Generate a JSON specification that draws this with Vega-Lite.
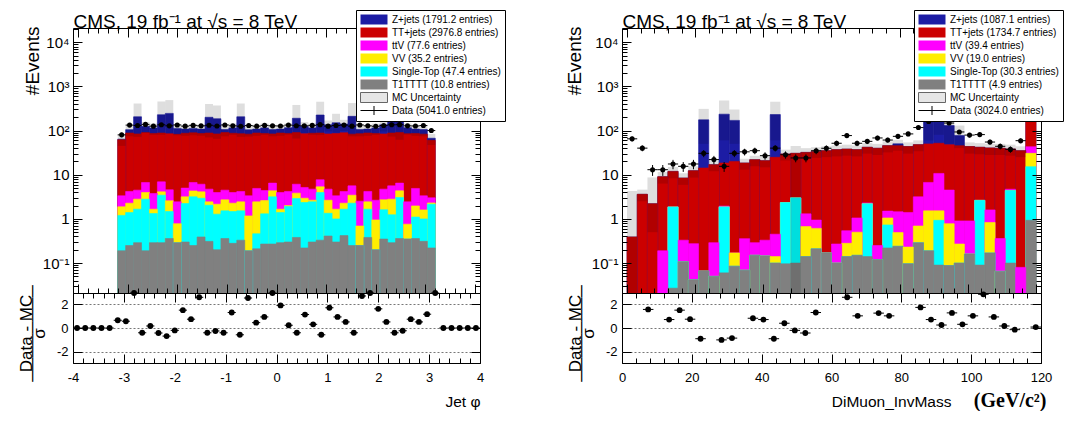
{
"$schema": "https://vega.github.io/schema/vega-lite/v6.json",
"background": "white",
"padding": {"left": 16, "top": 9, "right": 0, "bottom": 0},
"config": {
 "font": "Liberation Sans",
 "view": {"stroke": "#000", "strokeWidth": 1},
 "axis": {"domain": false, "grid": false, "labelFont": "Liberation Sans", "titleFont": "Liberation Sans", "labelColor": "#000", "titleColor": "#000", "tickColor": "#000", "tickWidth": 1, "titleFontWeight": "normal", "labelFlush": false, "labelOverlap": false, "labelBound": false, "titlePadding": 0},
 "legend": {"orient": "none", "title": null, "symbolType": "M-2.7,-1H2.7V1H-2.7Z", "symbolSize": 100, "symbolOffset": 8.5, "labelOffset": 12.5, "labelFontSize": 10, "labelFont": "Liberation Sans", "labelColor": "#000", "rowPadding": -2, "padding": 4, "strokeColor": "#000", "fillColor": "#fff", "symbolStrokeWidth": 1, "labelLimit": 300, "zindex": 2}
},
"datasets": {
"L": [
{"lo":-4,"hi":-3.84,"xc":-3.92,"rt":0},
{"lo":-3.84,"hi":-3.68,"xc":-3.76,"rt":0},
{"lo":-3.68,"hi":-3.52,"xc":-3.6,"rt":0},
{"lo":-3.52,"hi":-3.36,"xc":-3.44,"rt":0},
{"lo":-3.36,"hi":-3.2,"xc":-3.28,"rt":0},
{"lo":-3.2,"hi":-3.04,"xc":-3.12,"g":0.19,"c":1.2,"y":1.88,"m":3.33,"r":62,"b":64,"ul":45,"uh":80,"d":80,"dl":71,"dh":89,"rt":0.65},
{"lo":-3.04,"hi":-2.88,"xc":-2.96,"g":0.25,"c":1.39,"y":2.27,"m":4.18,"r":88,"b":105,"ul":74,"uh":131,"d":133,"dl":122,"dh":145,"rt":0.57},
{"lo":-2.88,"hi":-2.72,"xc":-2.8,"g":0.29,"c":1.66,"y":2.8,"m":4.48,"r":84,"b":205,"ul":72,"uh":410,"d":130,"dl":119,"dh":141,"rt":2.94},
{"lo":-2.72,"hi":-2.56,"xc":-2.64,"g":0.19,"c":2.8,"y":3.96,"m":6.68,"r":90,"b":125,"ul":88,"uh":156,"d":138,"dl":126,"dh":150,"rt":-0.4},
{"lo":-2.56,"hi":-2.4,"xc":-2.48,"g":0.29,"c":1.32,"y":1.66,"m":3.76,"r":86,"b":115,"ul":80,"uh":144,"d":126,"dl":115,"dh":137,"rt":0.17},
{"lo":-2.4,"hi":-2.24,"xc":-2.32,"g":0.29,"c":3.44,"y":4.1,"m":6.9,"r":88,"b":228,"ul":80,"uh":456,"d":135,"dl":123,"dh":147,"rt":-0.42},
{"lo":-2.24,"hi":-2.08,"xc":-2.16,"g":0.36,"c":1.47,"y":2.57,"m":4.56,"r":85,"b":245,"ul":86,"uh":490,"d":128,"dl":117,"dh":139,"rt":-0.68},
{"lo":-2.08,"hi":-1.92,"xc":-2.0,"g":0.29,"c":0.29,"y":0.78,"m":2.43,"r":82,"b":112,"ul":78,"uh":140,"d":134,"dl":122,"dh":146,"rt":-0.2},
{"lo":-1.92,"hi":-1.76,"xc":-1.84,"g":0.3,"c":2.23,"y":3.16,"m":4.98,"r":87,"b":108,"ul":76,"uh":135,"d":126,"dl":115,"dh":137,"rt":1.5},
{"lo":-1.76,"hi":-1.6,"xc":-1.68,"g":0.25,"c":3.16,"y":4.3,"m":6.68,"r":89,"b":112,"ul":78,"uh":140,"d":131,"dl":120,"dh":142,"rt":0.74},
{"lo":-1.6,"hi":-1.44,"xc":-1.52,"g":0.39,"c":2.94,"y":4.1,"m":6.1,"r":86,"b":108,"ul":76,"uh":135,"d":128,"dl":117,"dh":139,"rt":2.58},
{"lo":-1.44,"hi":-1.28,"xc":-1.36,"g":0.31,"c":2.04,"y":2.43,"m":4.72,"r":88,"b":200,"ul":70,"uh":400,"d":132,"dl":121,"dh":143,"rt":-0.4},
{"lo":-1.28,"hi":-1.12,"xc":-1.2,"g":0.2,"c":1.28,"y":2.15,"m":3.96,"r":84,"b":185,"ul":65,"uh":370,"d":127,"dl":116,"dh":138,"rt":-0.25},
{"lo":-1.12,"hi":-0.96,"xc":-1.04,"g":0.36,"c":1.52,"y":2.7,"m":4.48,"r":90,"b":106,"ul":74,"uh":132,"d":134,"dl":122,"dh":146,"rt":-0.4},
{"lo":-0.96,"hi":-0.8,"xc":-0.88,"g":0.28,"c":1.47,"y":2.27,"m":3.96,"r":87,"b":115,"ul":80,"uh":144,"d":128,"dl":117,"dh":139,"rt":1.3},
{"lo":-0.8,"hi":-0.64,"xc":-0.72,"g":0.33,"c":1.52,"y":2.43,"m":4.18,"r":85,"b":205,"ul":72,"uh":410,"d":125,"dl":114,"dh":136,"rt":-0.57},
{"lo":-0.64,"hi":-0.48,"xc":-0.56,"g":0.19,"c":0.19,"y":1.17,"m":3.33,"r":83,"b":104,"ul":73,"uh":130,"d":130,"dl":119,"dh":141,"rt":2.52},
{"lo":-0.48,"hi":-0.32,"xc":-0.4,"g":0.21,"c":0.46,"y":2.43,"m":4.9,"r":88,"b":108,"ul":76,"uh":135,"d":126,"dl":115,"dh":137,"rt":0.45},
{"lo":-0.32,"hi":-0.16,"xc":-0.24,"g":0.27,"c":1.3,"y":2.6,"m":4.4,"r":86,"b":115,"ul":80,"uh":144,"d":131,"dl":120,"dh":142,"rt":0.93},
{"lo":-0.16,"hi":0,"xc":-0.08,"g":0.27,"c":3.16,"y":4.33,"m":6.46,"r":84,"b":106,"ul":74,"uh":132,"d":128,"dl":117,"dh":139,"rt":2.94},
{"lo":0,"hi":0.16,"xc":0.08,"g":0.29,"c":1.39,"y":1.66,"m":3.96,"r":88,"b":108,"ul":76,"uh":135,"d":127,"dl":116,"dh":138,"rt":1.9},
{"lo":0.16,"hi":0.32,"xc":0.24,"g":0.3,"c":1.9,"y":2.0,"m":4.18,"r":86,"b":116,"ul":81,"uh":145,"d":133,"dl":122,"dh":145,"rt":0.23},
{"lo":0.32,"hi":0.48,"xc":0.4,"g":0.38,"c":2.9,"y":3.83,"m":6.1,"r":90,"b":190,"ul":66,"uh":380,"d":129,"dl":118,"dh":140,"rt":-0.4},
{"lo":0.48,"hi":0.64,"xc":0.56,"g":0.22,"c":2.35,"y":2.94,"m":5.15,"r":85,"b":125,"ul":88,"uh":156,"d":128,"dl":117,"dh":139,"rt":1.13},
{"lo":0.64,"hi":0.8,"xc":0.72,"g":0.3,"c":2.43,"y":2.65,"m":4.72,"r":87,"b":115,"ul":80,"uh":144,"d":131,"dl":120,"dh":142,"rt":0.31},
{"lo":0.8,"hi":0.96,"xc":0.88,"g":0.33,"c":3.96,"y":5.33,"m":7.7,"r":88,"b":225,"ul":79,"uh":450,"d":136,"dl":124,"dh":148,"rt":-0.57},
{"lo":0.96,"hi":1.12,"xc":1.04,"g":0.41,"c":1.34,"y":2.65,"m":4.72,"r":84,"b":135,"ul":95,"uh":169,"d":126,"dl":115,"dh":137,"rt":1.7},
{"lo":1.12,"hi":1.28,"xc":1.2,"g":0.3,"c":1.0,"y":1.66,"m":3.33,"r":86,"b":150,"ul":90,"uh":240,"d":130,"dl":119,"dh":141,"rt":0.93},
{"lo":1.28,"hi":1.44,"xc":1.36,"g":0.42,"c":1.66,"y":2.27,"m":4.18,"r":89,"b":140,"ul":98,"uh":175,"d":133,"dl":122,"dh":145,"rt":0.51},
{"lo":1.44,"hi":1.6,"xc":1.52,"g":0.25,"c":2.27,"y":3.44,"m":5.6,"r":83,"b":210,"ul":74,"uh":420,"d":126,"dl":115,"dh":137,"rt":-0.4},
{"lo":1.6,"hi":1.76,"xc":1.68,"g":0.25,"c":0.25,"y":0.69,"m":2.52,"r":85,"b":106,"ul":74,"uh":132,"d":134,"dl":122,"dh":146,"rt":2.69},
{"lo":1.76,"hi":1.92,"xc":1.84,"g":0.38,"c":1.66,"y":2.43,"m":4.18,"r":88,"b":108,"ul":76,"uh":135,"d":128,"dl":117,"dh":139,"rt":2.94},
{"lo":1.92,"hi":2.08,"xc":2.0,"g":0.2,"c":0.2,"y":0.95,"m":2.65,"r":86,"b":115,"ul":80,"uh":144,"d":125,"dl":114,"dh":136,"rt":1.61},
{"lo":2.08,"hi":2.24,"xc":2.16,"g":0.35,"c":1.61,"y":2.7,"m":4.72,"r":84,"b":135,"ul":95,"uh":169,"d":130,"dl":119,"dh":141,"rt":0.51},
{"lo":2.24,"hi":2.4,"xc":2.32,"g":0.29,"c":1.24,"y":2.8,"m":5.6,"r":88,"b":208,"ul":73,"uh":416,"d":135,"dl":123,"dh":147,"rt":-0.4},
{"lo":2.4,"hi":2.56,"xc":2.48,"g":0.36,"c":3.05,"y":4.33,"m":6.46,"r":90,"b":178,"ul":62,"uh":356,"d":136,"dl":124,"dh":148,"rt":-0.23},
{"lo":2.56,"hi":2.72,"xc":2.64,"g":0.35,"c":0.35,"y":0.76,"m":2.43,"r":85,"b":116,"ul":81,"uh":145,"d":128,"dl":117,"dh":139,"rt":0.74},
{"lo":2.72,"hi":2.88,"xc":2.8,"g":0.36,"c":1.1,"y":1.97,"m":4.9,"r":86,"b":108,"ul":76,"uh":135,"d":127,"dl":116,"dh":138,"rt":0.51},
{"lo":2.88,"hi":3.04,"xc":2.96,"g":0.31,"c":1.0,"y":1.6,"m":3.33,"r":83,"b":106,"ul":74,"uh":132,"d":130,"dl":119,"dh":141,"rt":1.16},
{"lo":3.04,"hi":3.2,"xc":3.12,"g":0.22,"c":2.15,"y":2.3,"m":3.0,"r":60,"b":67,"ul":47,"uh":84,"d":100,"dl":90,"dh":110,"rt":2.94},
{"lo":3.2,"hi":3.36,"xc":3.28,"rt":0},
{"lo":3.36,"hi":3.52,"xc":3.44,"rt":0},
{"lo":3.52,"hi":3.68,"xc":3.6,"rt":0},
{"lo":3.68,"hi":3.84,"xc":3.76,"rt":0},
{"lo":3.84,"hi":4,"xc":3.92,"rt":0}
],
"R": [
{"lo":0,"hi":3,"xc":1.5,"r":0.39,"b":0.39,"ul":0.015,"uh":4.3,"d":65,"dl":57,"dh":73},
{"lo":3,"hi":6,"xc":4.5,"r":3.6,"b":3.6,"ul":2.5,"uh":4.6,"d":40,"dl":34,"dh":46},
{"lo":6,"hi":9,"xc":7.5,"r":2.2,"b":2.2,"ul":0.5,"uh":8.7,"d":13,"dl":9.4,"dh":16.6,"rt":1.56},
{"lo":9,"hi":12,"xc":10.5,"m":0.19,"r":9.0,"b":9.0,"ul":6.3,"uh":11.5,"d":13,"dl":9.4,"dh":16.6},
{"lo":12,"hi":15,"xc":13.5,"g":0.027,"c":1.87,"y":1.87,"m":1.87,"r":11.9,"b":11.9,"ul":8.3,"uh":15,"d":17.5,"dl":13.3,"dh":21.7,"rt":0.71},
{"lo":15,"hi":18,"xc":16.5,"g":0.107,"c":0.107,"y":0.107,"m":0.33,"r":8.4,"b":8.4,"ul":5.9,"uh":10.8,"d":15.5,"dl":11.6,"dh":19.4,"rt":1.5},
{"lo":18,"hi":21,"xc":19.5,"g":0.042,"c":0.042,"y":0.042,"m":0.275,"r":12.3,"b":12.3,"ul":8.6,"uh":15.5,"d":17.5,"dl":13.3,"dh":21.7,"rt":0.74},
{"lo":21,"hi":24,"xc":22.5,"g":0.066,"c":0.066,"y":0.066,"m":0.066,"r":14.2,"b":175,"ul":50,"uh":310,"d":30.5,"dl":25,"dh":36,"rt":-0.9},
{"lo":24,"hi":27,"xc":25.5,"g":0.05,"c":0.05,"y":0.05,"m":0.29,"r":16.9,"b":16.9,"ul":12,"uh":21,"d":22,"dl":17.3,"dh":26.7},
{"lo":27,"hi":30,"xc":28.5,"g":0.06,"c":1.87,"y":1.87,"m":1.95,"r":18.4,"b":235,"ul":60,"uh":480,"d":15.5,"dl":11.6,"dh":19.4,"rt":-1.0},
{"lo":30,"hi":33,"xc":31.5,"g":0.085,"c":0.085,"y":0.17,"m":0.17,"r":20,"b":170,"ul":50,"uh":300,"d":30.5,"dl":25,"dh":36,"rt":-0.85},
{"lo":33,"hi":36,"xc":34.5,"g":0.069,"c":0.069,"y":0.069,"m":0.357,"r":18.4,"b":18.4,"ul":13,"uh":23,"d":33,"dl":27.3,"dh":38.7},
{"lo":36,"hi":39,"xc":37.5,"g":0.15,"c":0.15,"y":0.15,"m":0.29,"r":21.9,"b":21.9,"ul":15.5,"uh":27,"d":35,"dl":29.1,"dh":40.9,"rt":0.82},
{"lo":39,"hi":42,"xc":40.5,"g":0.145,"c":0.145,"y":0.145,"m":0.33,"r":20.8,"b":20.8,"ul":14.7,"uh":26,"d":27,"dl":21.8,"dh":32.2,"rt":0.71},
{"lo":42,"hi":45,"xc":43.5,"g":0.1,"c":0.1,"y":0.14,"m":0.45,"r":24.8,"b":230,"ul":60,"uh":450,"d":40,"dl":33.7,"dh":46.3,"rt":-0.9},
{"lo":45,"hi":48,"xc":46.5,"g":0.096,"c":2.35,"y":2.35,"m":2.35,"r":29.5,"b":29.5,"ul":21,"uh":37,"d":28.4,"dl":23.1,"dh":33.7,"rt":0.4},
{"lo":48,"hi":51,"xc":49.5,"g":0.1,"c":3.0,"y":3.0,"m":3.0,"r":30.5,"b":30.5,"ul":0.01,"uh":45,"d":24,"dl":19.1,"dh":28.9,"rt":-0.2},
{"lo":51,"hi":54,"xc":52.5,"g":0.14,"c":0.14,"y":0.67,"m":1.3,"r":32,"b":32,"ul":23,"uh":40,"d":24,"dl":19.1,"dh":28.9,"rt":-0.42},
{"lo":54,"hi":57,"xc":55.5,"g":0.21,"c":0.21,"y":0.61,"m":0.94,"r":33.3,"b":33.3,"ul":24,"uh":42,"d":35,"dl":29.1,"dh":40.9,"rt":1.3},
{"lo":57,"hi":60,"xc":58.5,"g":0.17,"c":0.17,"y":0.17,"m":0.17,"r":35,"b":35,"ul":25,"uh":44,"d":39.7,"dl":33.4,"dh":46},
{"lo":60,"hi":63,"xc":61.5,"g":0.1,"c":0.1,"y":0.1,"m":0.27,"r":37,"b":37,"ul":26,"uh":46,"d":51.6,"dl":44.4,"dh":58.8},
{"lo":63,"hi":66,"xc":64.5,"g":0.14,"c":0.14,"y":0.28,"m":0.54,"r":38,"b":38,"ul":27,"uh":48,"d":77,"dl":68.2,"dh":85.8,"rt":2.58},
{"lo":66,"hi":69,"xc":67.5,"g":0.15,"c":0.15,"y":0.5,"m":1.05,"r":37,"b":37,"ul":26,"uh":46,"d":51.6,"dl":44.4,"dh":58.8,"rt":1.02},
{"lo":69,"hi":72,"xc":70.5,"g":0.14,"c":2.2,"y":2.2,"m":2.3,"r":41.8,"b":41.8,"ul":30,"uh":52,"d":57,"dl":49.5,"dh":64.5},
{"lo":72,"hi":75,"xc":73.5,"g":0.12,"c":0.12,"y":0.12,"m":0.25,"r":39.7,"b":39.7,"ul":28,"uh":50,"d":68,"dl":59.8,"dh":76.2,"rt":1.25},
{"lo":75,"hi":78,"xc":76.5,"g":0.22,"c":0.73,"y":1.05,"m":1.5,"r":45.6,"b":45.6,"ul":32,"uh":57,"d":61,"dl":53.2,"dh":68.8,"rt":1.02},
{"lo":78,"hi":81,"xc":79.5,"g":0.24,"c":0.24,"y":0.49,"m":1.45,"r":45.6,"b":50,"ul":35,"uh":62,"d":74,"dl":65.4,"dh":82.6},
{"lo":81,"hi":84,"xc":82.5,"g":0.097,"c":0.097,"y":0.23,"m":1.4,"r":43.3,"b":43.3,"ul":30,"uh":54,"d":84,"dl":74.8,"dh":93.2},
{"lo":84,"hi":87,"xc":85.5,"g":0.29,"c":0.29,"y":0.69,"m":3.16,"r":48,"b":48,"ul":34,"uh":60,"d":117,"dl":106,"dh":128,"rt":1.73},
{"lo":87,"hi":90,"xc":88.5,"g":0.19,"c":0.19,"y":1.52,"m":6.7,"r":49.8,"b":184,"ul":60,"uh":350,"d":160,"dl":147,"dh":173,"rt":0.71},
{"lo":90,"hi":93,"xc":91.5,"g":0.09,"c":0.93,"y":1.52,"m":10.7,"r":51.6,"b":270,"ul":80,"uh":450,"d":190,"dl":176,"dh":204,"rt":0.25},
{"lo":93,"hi":96,"xc":94.5,"g":0.088,"c":0.088,"y":0.78,"m":4.5,"r":48,"b":130,"ul":50,"uh":240,"d":148,"dl":136,"dh":160,"rt":1.27},
{"lo":96,"hi":99,"xc":97.5,"g":0.1,"c":0.1,"y":0.27,"m":0.9,"r":45.6,"b":77,"ul":40,"uh":130,"d":93,"dl":83.4,"dh":102.6,"rt":0.31},
{"lo":99,"hi":102,"xc":100.5,"g":0.16,"c":0.16,"y":0.16,"m":0.9,"r":43.3,"b":43.3,"ul":30,"uh":54,"d":79,"dl":70,"dh":88,"rt":1.02},
{"lo":102,"hi":105,"xc":103.5,"g":0.09,"c":2.63,"y":2.63,"m":2.63,"r":41.8,"b":41.8,"ul":29,"uh":52,"d":81,"dl":72,"dh":90,"rt":2.83},
{"lo":105,"hi":108,"xc":106.5,"g":0.17,"c":0.17,"y":0.83,"m":1.6,"r":40.4,"b":40.4,"ul":28,"uh":50,"d":55,"dl":47.6,"dh":62.4,"rt":0.93},
{"lo":108,"hi":111,"xc":109.5,"g":0.065,"c":0.065,"y":0.065,"m":0.36,"r":39.7,"b":39.7,"ul":28,"uh":50,"d":44,"dl":37.4,"dh":50.6,"rt":0.17},
{"lo":111,"hi":114,"xc":112.5,"g":0.1,"c":4.4,"y":4.4,"m":4.7,"r":38.3,"b":38.3,"ul":27,"uh":48,"d":37.5,"dl":31.4,"dh":43.6,"rt":-0.14},
{"lo":114,"hi":117,"xc":115.5,"m":0.08,"r":35,"b":35,"ul":25,"uh":44,"d":59,"dl":51.3,"dh":66.7},
{"lo":117,"hi":120,"xc":118.5,"g":0.93,"c":15.2,"y":30.5,"m":43,"r":400,"b":400,"ul":300,"uh":520,"d":410,"dl":390,"dh":430,"rt":0.08}
]
},
"hconcat": [
{
 "vconcat": [
 {
  "width": 407, "height": 265,
  "data": {"name": "L"},
  "layer": [
   {
    "transform": [{"fold": ["b","r","m","y","c","g"], "as": ["s","v"]}, {"filter": "isValid(datum.v)"}],
    "mark": {"type": "bar", "orient": "vertical", "clip": true, "strokeWidth": 0.6},
    "encoding": {
     "x": {"field": "lo", "type": "quantitative", "scale": {"domain": [-4, 4], "nice": false, "zero": false}, "axis": {"orient": "bottom", "values": [-4,-3,-2,-1,0,1,2,3,4], "labels": false, "tickSize": -9, "title": null, "zindex": 1}},
     "x2": {"field": "hi"},
     "y": {"field": "v", "type": "quantitative", "stack": null, "scale": {"type": "log", "domain": [0.021, 21000], "nice": false}, "axis": {"orient": "left", "values": [0.1,1,10,100,1000,10000], "labelExpr": "datum.value < 0.5 ? '10⁻¹' : datum.value < 5 ? '1' : datum.value < 50 ? '10' : datum.value < 500 ? '10²' : datum.value < 5000 ? '10³' : '10⁴'", "tickSize": -9, "labelPadding": 13, "labelFontSize": 15, "title": "#Events", "titleX": -35, "titleY": -2, "titleAngle": -90, "titleAlign": "right", "titleBaseline": "alphabetic", "titleFontSize": 19, "zindex": 1}},
     "y2": {"datum": 0.001},
     "order": {"field": "v", "type": "quantitative", "sort": "descending"},
     "color": {"field": "s", "type": "nominal", "scale": {"domain": ["b","r","m","y","c","g","u","d"], "range": ["#1c1ca4","#cc0000","#ff00ff","#ffee00","#00ffff","#808080","#e6e6e6","transparent"]}, "legend": {"orient": "none", "legendX": 283, "legendY": -18, "labelExpr": "datum.value==='b'?'Z+jets (1791.2 entries)':datum.value==='r'?'TT+jets (2976.8 entries)':datum.value==='m'?'ttV (77.6 entries)':datum.value==='y'?'VV (35.2 entries)':datum.value==='c'?'Single-Top (47.4 entries)':datum.value==='g'?'T1TTTT (10.8 entries)':datum.value==='u'?'MC Uncertainty':'Data (5041.0 entries)'", "encode": {"symbols": {"update": {"shape": {"signal": "datum.value === 'd' ? 'M-2.7,0H2.7M0,-0.9V0.9' : 'M-2.7,-1H2.7V1H-2.7Z'"}, "stroke": {"signal": "datum.value === 'd' ? '#000' : datum.value === 'u' ? '#666' : 'transparent'"}}}}}},
     "stroke": {"field": "s", "type": "nominal", "scale": {"domain": ["b","r","m","y","c","g"], "range": ["#1c1ca4","#cc0000","#ff00ff","#ffee00","#00ffff","#808080"]}, "legend": null}
    }
   },
   {
    "mark": {"type": "bar", "clip": true, "fill": "#000", "fillOpacity": 0.13},
    "encoding": {
     "x": {"field": "lo", "type": "quantitative", "scale": {"domain": [-4, 4], "nice": false, "zero": false}, "axis": {"orient": "bottom", "values": [-4,-3.8,-3.6,-3.4,-3.2,-3,-2.8,-2.6,-2.4,-2.2,-2,-1.8,-1.6,-1.4,-1.2,-1,-0.8,-0.6,-0.4,-0.2,0,0.2,0.4,0.6,0.8,1,1.2,1.4,1.6,1.8,2,2.2,2.4,2.6,2.8,3,3.2,3.4,3.6,3.8,4], "labels": false, "tickSize": -5, "title": null, "zindex": 1}},
     "x2": {"field": "hi"},
     "y": {"field": "ul", "type": "quantitative", "scale": {"type": "log", "domain": [0.021, 21000], "nice": false}, "axis": {"orient": "left", "values": [0.03,0.04,0.05,0.06,0.07,0.08,0.09,0.2,0.3,0.4,0.5,0.6,0.7,0.8,0.9,2,3,4,5,6,7,8,9,20,30,40,50,60,70,80,90,200,300,400,500,600,700,800,900,2000,3000,4000,5000,6000,7000,8000,9000,20000], "labels": false, "tickSize": -5, "title": null, "zindex": 1}},
     "y2": {"field": "uh"}
    }
   },
   {
    "mark": {"type": "rule", "color": "#000", "strokeWidth": 1, "clip": true},
    "encoding": {
     "x": {"field": "xc", "type": "quantitative", "scale": {"domain": [-4, 4], "nice": false, "zero": false}, "axis": {"orient": "top", "values": [-4,-3,-2,-1,0,1,2,3,4], "labels": false, "tickSize": -9, "title": "CMS, 19 fb⁻¹ at  √s = 8 TeV", "titleX": 0, "titleY": -1, "titleAlign": "left", "titleBaseline": "alphabetic", "titleAngle": 0, "titleFontSize": 19, "zindex": 1}},
     "y": {"field": "dl", "type": "quantitative", "scale": {"type": "log", "domain": [0.021, 21000], "nice": false}, "axis": {"orient": "right", "values": [0.1,1,10,100,1000,10000], "labels": false, "tickSize": -9, "title": null, "zindex": 1}},
     "y2": {"field": "dh"}
    }
   },
   {
    "mark": {"type": "rule", "color": "#000", "strokeWidth": 1, "clip": true},
    "encoding": {
     "x": {"field": "lo", "type": "quantitative", "scale": {"domain": [-4, 4], "nice": false, "zero": false}, "axis": {"orient": "top", "values": [-4,-3.8,-3.6,-3.4,-3.2,-3,-2.8,-2.6,-2.4,-2.2,-2,-1.8,-1.6,-1.4,-1.2,-1,-0.8,-0.6,-0.4,-0.2,0,0.2,0.4,0.6,0.8,1,1.2,1.4,1.6,1.8,2,2.2,2.4,2.6,2.8,3,3.2,3.4,3.6,3.8,4], "labels": false, "tickSize": -5, "title": null, "zindex": 1}},
     "x2": {"field": "hi"},
     "y": {"field": "d", "type": "quantitative", "scale": {"type": "log", "domain": [0.021, 21000], "nice": false}, "axis": {"orient": "right", "values": [0.03,0.04,0.05,0.06,0.07,0.08,0.09,0.2,0.3,0.4,0.5,0.6,0.7,0.8,0.9,2,3,4,5,6,7,8,9,20,30,40,50,60,70,80,90,200,300,400,500,600,700,800,900,2000,3000,4000,5000,6000,7000,8000,9000,20000], "labels": false, "tickSize": -5, "title": null, "zindex": 1}}
    }
   },
   {
    "mark": {"type": "circle", "color": "#000", "opacity": 1, "size": 26},
    "encoding": {
     "x": {"field": "xc", "type": "quantitative", "scale": {"domain": [-4, 4], "nice": false, "zero": false}, "axis": null},
     "y": {"field": "d", "type": "quantitative", "scale": {"type": "log", "domain": [0.021, 21000], "nice": false}, "axis": null}
    }
   }
  ],
  "resolve": {"axis": {"x": "independent", "y": "independent"}}
 },
 {
  "width": 407, "height": 70,
  "data": {"name": "L"},
  "layer": [
   {
    "mark": {"type": "rule", "color": "#000"},
    "encoding": {
     "x": {"field": "lo", "type": "quantitative", "scale": {"domain": [-4, 4], "nice": false, "zero": false}, "axis": {"orient": "bottom", "values": [-4,-3,-2,-1,0,1,2,3,4], "labelExpr": "datum.value + ''", "tickSize": -9, "labelPadding": 17, "labelFontSize": 13, "title": "Jet φ", "titleX": 407, "titleY": 43, "titleAlign": "right", "titleBaseline": "alphabetic", "titleFontSize": 15.5, "zindex": 1}},
     "x2": {"field": "hi"},
     "y": {"field": "rt", "type": "quantitative", "scale": {"domain": [-2.94, 2.94], "nice": false, "zero": false}, "axis": {"orient": "left", "values": [-2,0,2], "labelExpr": "datum.value + ''", "tickSize": -9, "labelPadding": 14, "labelFontSize": 13, "grid": true, "gridDash": [2,2], "gridColor": "#777", "gridWidth": 1, "title": ["Data - MC", "────────", "σ"], "titleX": -42, "titleY": 40, "titleAngle": -90, "titleAlign": "center", "titleBaseline": "alphabetic", "titleFontSize": 17, "titleLineHeight": 6.5}}
    }
   },
   {
    "mark": {"type": "circle", "color": "#000", "opacity": 1, "size": 34},
    "encoding": {
     "x": {"field": "xc", "type": "quantitative", "scale": {"domain": [-4, 4], "nice": false, "zero": false}, "axis": {"orient": "bottom", "values": [-4,-3.8,-3.6,-3.4,-3.2,-3,-2.8,-2.6,-2.4,-2.2,-2,-1.8,-1.6,-1.4,-1.2,-1,-0.8,-0.6,-0.4,-0.2,0,0.2,0.4,0.6,0.8,1,1.2,1.4,1.6,1.8,2,2.2,2.4,2.6,2.8,3,3.2,3.4,3.6,3.8,4], "labels": false, "tickSize": -5, "title": null, "zindex": 1}},
     "y": {"field": "rt", "type": "quantitative", "scale": {"domain": [-2.94, 2.94], "nice": false, "zero": false}, "axis": {"orient": "right", "values": [-2,0,2], "labels": false, "tickSize": -9, "title": null}}
    }
   },
   {
    "mark": {"type": "circle", "opacity": 0},
    "encoding": {
     "x": {"field": "xc", "type": "quantitative", "scale": {"domain": [-4, 4], "nice": false, "zero": false}, "axis": {"orient": "top", "values": [-4,-3,-2,-1,0,1,2,3,4], "labels": false, "tickSize": -9, "title": null, "zindex": 1}},
     "y": {"field": "rt", "type": "quantitative", "scale": {"domain": [-2.94, 2.94], "nice": false, "zero": false}, "axis": null}
    }
   },
   {
    "mark": {"type": "circle", "opacity": 0},
    "encoding": {
     "x": {"field": "xc", "type": "quantitative", "scale": {"domain": [-4, 4], "nice": false, "zero": false}, "axis": {"orient": "top", "values": [-4,-3.8,-3.6,-3.4,-3.2,-3,-2.8,-2.6,-2.4,-2.2,-2,-1.8,-1.6,-1.4,-1.2,-1,-0.8,-0.6,-0.4,-0.2,0,0.2,0.4,0.6,0.8,1,1.2,1.4,1.6,1.8,2,2.2,2.4,2.6,2.8,3,3.2,3.4,3.6,3.8,4], "labels": false, "tickSize": -5, "title": null, "zindex": 1}},
     "y": {"field": "rt", "type": "quantitative", "scale": {"domain": [-2.94, 2.94], "nice": false, "zero": false}, "axis": null}
    }
   }
  ],
  "resolve": {"axis": {"x": "independent", "y": "independent"}}
 }
 ],
 "spacing": 0,
 "bounds": "flush",
 "resolve": {"scale": {"x": "independent", "y": "independent", "color": "independent"}, "legend": {"color": "independent"}}
},
{
 "vconcat": [
 {
  "width": 419, "height": 265,
  "data": {"name": "R"},
  "layer": [
   {
    "transform": [{"fold": ["b","r","m","y","c","g"], "as": ["s","v"]}, {"filter": "isValid(datum.v)"}],
    "mark": {"type": "bar", "orient": "vertical", "clip": true, "strokeWidth": 0.6},
    "encoding": {
     "x": {"field": "lo", "type": "quantitative", "scale": {"domain": [0, 120], "nice": false, "zero": false}, "axis": {"orient": "bottom", "values": [0,20,40,60,80,100,120], "labels": false, "tickSize": -9, "title": null, "zindex": 1}},
     "x2": {"field": "hi"},
     "y": {"field": "v", "type": "quantitative", "stack": null, "scale": {"type": "log", "domain": [0.021, 21000], "nice": false}, "axis": {"orient": "left", "values": [0.1,1,10,100,1000,10000], "labelExpr": "datum.value < 0.5 ? '10⁻¹' : datum.value < 5 ? '1' : datum.value < 50 ? '10' : datum.value < 500 ? '10²' : datum.value < 5000 ? '10³' : '10⁴'", "tickSize": -9, "labelPadding": 13, "labelFontSize": 15, "title": "#Events", "titleX": -42, "titleY": -2, "titleAngle": -90, "titleAlign": "right", "titleBaseline": "alphabetic", "titleFontSize": 19, "zindex": 1}},
     "y2": {"datum": 0.001},
     "order": {"field": "v", "type": "quantitative", "sort": "descending"},
     "color": {"field": "s", "type": "nominal", "scale": {"domain": ["b","r","m","y","c","g","u","d"], "range": ["#1c1ca4","#cc0000","#ff00ff","#ffee00","#00ffff","#808080","#e6e6e6","transparent"]}, "legend": {"orient": "none", "legendX": 292, "legendY": -18, "labelExpr": "datum.value==='b'?'Z+jets (1087.1 entries)':datum.value==='r'?'TT+jets (1734.7 entries)':datum.value==='m'?'ttV (39.4 entries)':datum.value==='y'?'VV (19.0 entries)':datum.value==='c'?'Single-Top (30.3 entries)':datum.value==='g'?'T1TTTT (4.9 entries)':datum.value==='u'?'MC Uncertainty':'Data (3024.0 entries)'", "encode": {"symbols": {"update": {"shape": {"signal": "datum.value === 'd' ? 'M-2.7,0H2.7M0,-0.9V0.9' : 'M-2.7,-1H2.7V1H-2.7Z'"}, "stroke": {"signal": "datum.value === 'd' ? '#000' : datum.value === 'u' ? '#666' : 'transparent'"}}}}}},
     "stroke": {"field": "s", "type": "nominal", "scale": {"domain": ["b","r","m","y","c","g"], "range": ["#1c1ca4","#cc0000","#ff00ff","#ffee00","#00ffff","#808080"]}, "legend": null}
    }
   },
   {
    "mark": {"type": "bar", "clip": true, "fill": "#000", "fillOpacity": 0.13},
    "encoding": {
     "x": {"field": "lo", "type": "quantitative", "scale": {"domain": [0, 120], "nice": false, "zero": false}, "axis": {"orient": "bottom", "values": [0,4,8,12,16,20,24,28,32,36,40,44,48,52,56,60,64,68,72,76,80,84,88,92,96,100,104,108,112,116,120], "labels": false, "tickSize": -5, "title": null, "zindex": 1}},
     "x2": {"field": "hi"},
     "y": {"field": "ul", "type": "quantitative", "scale": {"type": "log", "domain": [0.021, 21000], "nice": false}, "axis": {"orient": "left", "values": [0.03,0.04,0.05,0.06,0.07,0.08,0.09,0.2,0.3,0.4,0.5,0.6,0.7,0.8,0.9,2,3,4,5,6,7,8,9,20,30,40,50,60,70,80,90,200,300,400,500,600,700,800,900,2000,3000,4000,5000,6000,7000,8000,9000,20000], "labels": false, "tickSize": -5, "title": null, "zindex": 1}},
     "y2": {"field": "uh"}
    }
   },
   {
    "mark": {"type": "rule", "color": "#000", "strokeWidth": 1, "clip": true},
    "encoding": {
     "x": {"field": "xc", "type": "quantitative", "scale": {"domain": [0, 120], "nice": false, "zero": false}, "axis": {"orient": "top", "values": [0,20,40,60,80,100,120], "labels": false, "tickSize": -9, "title": "CMS, 19 fb⁻¹ at  √s = 8 TeV", "titleX": 0, "titleY": -1, "titleAlign": "left", "titleBaseline": "alphabetic", "titleAngle": 0, "titleFontSize": 19, "zindex": 1}},
     "y": {"field": "dl", "type": "quantitative", "scale": {"type": "log", "domain": [0.021, 21000], "nice": false}, "axis": {"orient": "right", "values": [0.1,1,10,100,1000,10000], "labels": false, "tickSize": -9, "title": null, "zindex": 1}},
     "y2": {"field": "dh"}
    }
   },
   {
    "mark": {"type": "rule", "color": "#000", "strokeWidth": 1, "clip": true},
    "encoding": {
     "x": {"field": "lo", "type": "quantitative", "scale": {"domain": [0, 120], "nice": false, "zero": false}, "axis": {"orient": "top", "values": [0,4,8,12,16,20,24,28,32,36,40,44,48,52,56,60,64,68,72,76,80,84,88,92,96,100,104,108,112,116,120], "labels": false, "tickSize": -5, "title": null, "zindex": 1}},
     "x2": {"field": "hi"},
     "y": {"field": "d", "type": "quantitative", "scale": {"type": "log", "domain": [0.021, 21000], "nice": false}, "axis": {"orient": "right", "values": [0.03,0.04,0.05,0.06,0.07,0.08,0.09,0.2,0.3,0.4,0.5,0.6,0.7,0.8,0.9,2,3,4,5,6,7,8,9,20,30,40,50,60,70,80,90,200,300,400,500,600,700,800,900,2000,3000,4000,5000,6000,7000,8000,9000,20000], "labels": false, "tickSize": -5, "title": null, "zindex": 1}}
    }
   },
   {
    "mark": {"type": "circle", "color": "#000", "opacity": 1, "size": 26},
    "encoding": {
     "x": {"field": "xc", "type": "quantitative", "scale": {"domain": [0, 120], "nice": false, "zero": false}, "axis": null},
     "y": {"field": "d", "type": "quantitative", "scale": {"type": "log", "domain": [0.021, 21000], "nice": false}, "axis": null}
    }
   }
  ],
  "resolve": {"axis": {"x": "independent", "y": "independent"}}
 },
 {
  "width": 419, "height": 70,
  "data": {"name": "R"},
  "layer": [
   {
    "mark": {"type": "rule", "color": "#000"},
    "encoding": {
     "x": {"field": "lo", "type": "quantitative", "scale": {"domain": [0, 120], "nice": false, "zero": false}, "axis": {"orient": "bottom", "values": [0,20,40,60,80,100,120], "labelExpr": "datum.value + ''", "tickSize": -9, "labelPadding": 17, "labelFontSize": 13, "title": "DiMuon_InvMass", "titleX": 329, "titleY": 43, "titleAlign": "right", "titleBaseline": "alphabetic", "titleFontSize": 15.5, "zindex": 1}},
     "x2": {"field": "hi"},
     "y": {"field": "rt", "type": "quantitative", "scale": {"domain": [-2.94, 2.94], "nice": false, "zero": false}, "axis": {"orient": "left", "values": [-2,0,2], "labelExpr": "datum.value + ''", "tickSize": -9, "labelPadding": 14, "labelFontSize": 13, "grid": true, "gridDash": [2,2], "gridColor": "#777", "gridWidth": 1, "title": ["Data - MC", "────────", "σ"], "titleX": -42, "titleY": 40, "titleAngle": -90, "titleAlign": "center", "titleBaseline": "alphabetic", "titleFontSize": 17, "titleLineHeight": 6.5}}
    }
   },
   {
    "mark": {"type": "circle", "color": "#000", "opacity": 1, "size": 34},
    "encoding": {
     "x": {"field": "xc", "type": "quantitative", "scale": {"domain": [0, 120], "nice": false, "zero": false}, "axis": {"orient": "bottom", "values": [0,4,8,12,16,20,24,28,32,36,40,44,48,52,56,60,64,68,72,76,80,84,88,92,96,100,104,108,112,116,120], "labels": false, "tickSize": -5, "title": "(GeV/c²)", "titleFont": "Liberation Serif", "titleFontWeight": "bold", "titleFontSize": 20, "titleX": 424, "titleY": 43, "titleAlign": "right", "titleBaseline": "alphabetic", "zindex": 1}},
     "y": {"field": "rt", "type": "quantitative", "scale": {"domain": [-2.94, 2.94], "nice": false, "zero": false}, "axis": {"orient": "right", "values": [-2,0,2], "labels": false, "tickSize": -9, "title": null}}
    }
   },
   {
    "mark": {"type": "circle", "opacity": 0},
    "encoding": {
     "x": {"field": "xc", "type": "quantitative", "scale": {"domain": [0, 120], "nice": false, "zero": false}, "axis": {"orient": "top", "values": [0,20,40,60,80,100,120], "labels": false, "tickSize": -9, "title": null, "zindex": 1}},
     "y": {"field": "rt", "type": "quantitative", "scale": {"domain": [-2.94, 2.94], "nice": false, "zero": false}, "axis": null}
    }
   },
   {
    "mark": {"type": "circle", "opacity": 0},
    "encoding": {
     "x": {"field": "xc", "type": "quantitative", "scale": {"domain": [0, 120], "nice": false, "zero": false}, "axis": {"orient": "top", "values": [0,4,8,12,16,20,24,28,32,36,40,44,48,52,56,60,64,68,72,76,80,84,88,92,96,100,104,108,112,116,120], "labels": false, "tickSize": -5, "title": null, "zindex": 1}},
     "y": {"field": "rt", "type": "quantitative", "scale": {"domain": [-2.94, 2.94], "nice": false, "zero": false}, "axis": null}
    }
   }
  ],
  "resolve": {"axis": {"x": "independent", "y": "independent"}}
 }
 ],
 "spacing": 0,
 "bounds": "flush",
 "resolve": {"scale": {"x": "independent", "y": "independent", "color": "independent"}, "legend": {"color": "independent"}}
}
],
"spacing": 58,
"resolve": {"scale": {"color": "independent"}, "legend": {"color": "independent"}}
}
